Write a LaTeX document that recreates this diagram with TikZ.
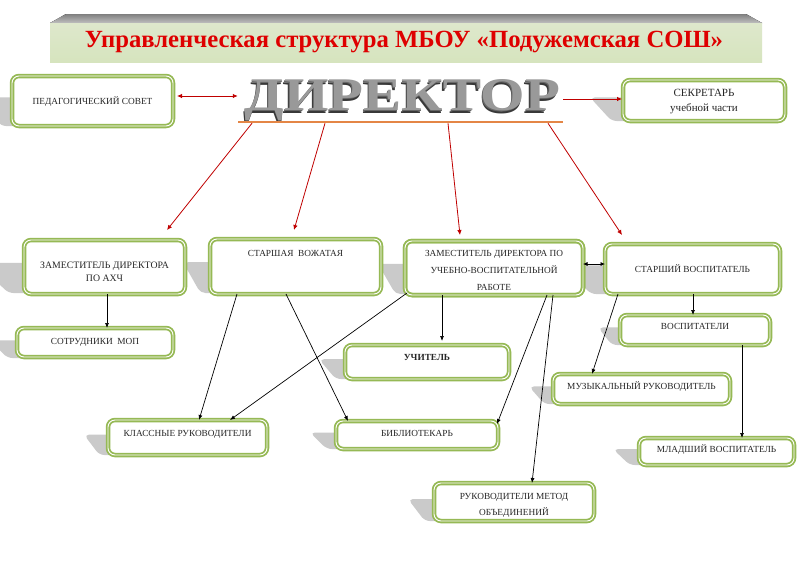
\documentclass[tikz,border=0pt]{standalone}
\usepackage{fontspec}
\usepackage{graphicx}
\setmainfont{Liberation Serif}
\usetikzlibrary{arrows.meta,calc}
\definecolor{gr}{RGB}{150,185,85}
\definecolor{shd}{RGB}{202,202,202}
\definecolor{darkred}{RGB}{192,0,0}
\definecolor{orng}{RGB}{228,134,70}
\definecolor{titlered}{RGB}{222,0,0}
\newcommand\fsz[2]{\fontsize{#1}{#2}\selectfont}
\newcommand\shadowpoly[4]{\fill[shd, rounded corners=5pt] ({#1+12},{#2+0.45*(#3-#2)}) -- ({#1-#4},{#2+0.45*(#3-#2)}) -- ({#1-0.3*#4},{#3}) -- ({#1+12},{#3}) -- cycle;}
\begin{document}
\begin{tikzpicture}[x=1pt,y=-1pt,
  frame/.style={rounded corners=7pt, draw=gr, line width=1.8pt, double=white, double distance=0.9pt},
  box/.style={frame, rectangle, fill=white, inner sep=0pt, outer sep=0pt, text=black!85, align=center, font=\fsz{9.3}{11}},
  sline/.style={text height=6.5pt, text depth=0pt},
  blk/.style={line width=0.7pt, -{Latex[length=5pt,width=4pt]}},
  redarr/.style={darkred, line width=0.8pt, -{Latex[length=5pt,width=4.5pt]}},
  dirtext/.style={inner sep=0pt, anchor=base, font=\bfseries}
]
\useasboundingbox (0,0) rectangle (800,565);
\fill[white] (0,0) rectangle (800,565);

% title banner
\fill[top color=black!50, bottom color=black!25] (66,14) -- (746,14) -- (762,23) -- (50,23) -- cycle;
\fill[top color={rgb,255:red,222;green,232;blue,204}, middle color={rgb,255:red,244;green,247;blue,238}, bottom color={rgb,255:red,214;green,228;blue,190}] (50,23) rectangle (762,62);
\node[inner sep=0pt, anchor=base, text=titlered] (title) at (404,47) {\resizebox{638pt}{!}{\bfseries Управленческая структура МБОУ «Подужемская СОШ»}};

% director
\node[dirtext, text=black!78] (dirsh2) at ($(402.5,110)+(-1.6,3.6)$) {\resizebox{315pt}{31pt}{ДИРЕКТОР}};
\node[dirtext, text=black!60] (dirsh1) at ($(402.5,110)+(-0.8,1.8)$) {\resizebox{315pt}{31pt}{ДИРЕКТОР}};
\node[dirtext, text=black!40] (dir) at (402.5,110) {\resizebox{315pt}{31pt}{ДИРЕКТОР}};
\node[fill=orng, minimum width=325pt, minimum height=2.5pt, inner sep=0pt, outer sep=0pt] (bar) at (400.5,122) {};

% shadows
\shadowpoly{10}{74}{126}{30}
\shadowpoly{621}{78}{121}{31}
\shadowpoly{22}{238}{293}{45}
\shadowpoly{208}{237}{293}{25}
\shadowpoly{403}{239}{294}{25}
\shadowpoly{603}{242}{294}{40}
\shadowpoly{15}{326}{358}{25}
\shadowpoly{343}{343}{379}{24}
\shadowpoly{618}{313}{345}{20}
\shadowpoly{551}{372}{404}{22}
\shadowpoly{106}{418}{455}{22}
\shadowpoly{334}{419}{449}{24}
\shadowpoly{637}{436}{465}{24}
\shadowpoly{432}{481}{521}{24}

% boxes
\node[box, sline, minimum width=161pt, minimum height=50pt] (ped) at (92.5,101) {ПЕДАГОГИЧЕСКИЙ СОВЕТ};
\node[box, font=\fsz{11}{15}, text height=23.5pt, text depth=2.4pt, minimum width=162pt, minimum height=41pt] (sec) at (704,100.5) {СЕКРЕТАРЬ\\учебной части};
\node[box, font=\fsz{9.8}{13}, text height=28.4pt, text depth=0pt, minimum width=161pt, minimum height=54pt] (axch) at (104.5,267) {ЗАМЕСТИТЕЛЬ ДИРЕКТОРА\\ПО АХЧ};
\node[box, minimum width=171pt, minimum height=55pt,
  label={[anchor=base, yshift=-17pt, font=\fsz{9.3}{11}, text=black!85]north:СТАРШАЯ~ ВОЖАТАЯ}] (vozh) at (295.5,266.5) {};
\node[box, font=\fsz{9.3}{17}, text height=44pt, text depth=0pt, minimum width=178pt, minimum height=54pt] (uvr) at (494,268) {ЗАМЕСТИТЕЛЬ ДИРЕКТОРА ПО\\УЧЕБНО-ВОСПИТАТЕЛЬНОЙ\\РАБОТЕ};
\draw[frame] (uvr.south west) rectangle (uvr.north east);
\node[box, sline, minimum width=175pt, minimum height=50pt] (stv) at (692.5,269) {СТАРШИЙ ВОСПИТАТЕЛЬ};
\node[box, sline, text depth=3pt, minimum width=156pt, minimum height=29pt] (mop) at (95,342.5) {СОТРУДНИКИ~ МОП};
\node[box, sline, text depth=9pt, minimum width=164pt, minimum height=34pt] (uch) at (427,362) {\bfseries УЧИТЕЛЬ};
\node[box, sline, text depth=7pt, minimum width=150pt, minimum height=30pt] (vosp) at (695,330) {ВОСПИТАТЕЛИ};
\node[box, sline, text depth=5pt, minimum width=177pt, minimum height=30pt] (muz) at (641.5,389) {МУЗЫКАЛЬНЫЙ РУКОВОДИТЕЛЬ};
\node[box, sline, text depth=8pt, minimum width=159pt, minimum height=35pt] (klass) at (187.5,437.5) {КЛАССНЫЕ РУКОВОДИТЕЛИ};
\node[box, sline, text depth=4pt, minimum width=162pt, minimum height=28pt] (bibl) at (417,435) {БИБЛИОТЕКАРЬ};
\node[box, sline, text depth=4pt, minimum width=155pt, minimum height=27pt] (mlad) at (716.5,451.5) {МЛАДШИЙ ВОСПИТАТЕЛЬ};
\node[box, font=\fsz{9.3}{16}, text height=28pt, text depth=2pt, minimum width=160pt, minimum height=38pt] (rukm) at (514,502) {РУКОВОДИТЕЛИ МЕТОД\\ОБЪЕДИНЕНИЙ};

% red connectors
\draw[redarr, {Latex[length=5pt,width=4.5pt]}-{Latex[length=5pt,width=4.5pt]}, shorten <=4pt, shorten >=7pt] ([yshift=5pt]ped.east) -- ([yshift=5pt]ped.east -| dir.west);
\draw[redarr, shorten <=3pt, shorten >=1pt] ([yshift=1.5pt]sec.west -| dir.east) -- ([yshift=1.5pt]sec.west);
\draw[redarr] ([xshift=-148.5pt]bar.south) -- ([xshift=62.5pt,yshift=10pt]axch.north);
\draw[redarr] ([xshift=-75.5pt]bar.south) -- ([xshift=-1.5pt,yshift=9pt]vozh.north);
\draw[redarr] ([xshift=47.5pt]bar.south) -- ([xshift=-34pt,yshift=6pt]uvr.north);
\draw[redarr] ([xshift=147.5pt]bar.south) -- ([xshift=-70.5pt,yshift=9pt]stv.north);

% black connectors
\draw[blk] ([xshift=2.5pt]axch.south) -- ([xshift=12pt]mop.north);
\draw[blk] ([xshift=-58.5pt]vozh.south) -- ([xshift=11.5pt]klass.north);
\draw[blk] ([xshift=-9.5pt]vozh.south) -- ([xshift=-69pt]bibl.north);
\draw[blk] ([xshift=2pt,yshift=2pt]uvr.south west) -- ([xshift=42.5pt]klass.north);
\draw[blk, shorten >=4pt] ([xshift=-52pt]uvr.south) -- ([xshift=15pt]uch.north);
\draw[blk] ([xshift=53pt]uvr.south) -- ([xshift=-1pt,yshift=-3pt]bibl.north east);
\draw[blk] ([xshift=59pt]uvr.south) -- ([xshift=18pt]rukm.north);
\draw[line width=0.7pt, {Latex[length=4.5pt,width=4pt]}-{Latex[length=4.5pt,width=4pt]}] ([yshift=4pt]uvr.east) -- ([yshift=4pt]uvr.east -| stv.west);
\draw[blk] ([xshift=0.5pt]stv.south) -- ([xshift=0.5pt]stv.south |- vosp.north);
\draw[blk] ([xshift=-74.5pt]stv.south) -- ([xshift=-49.5pt]muz.north);
\draw[blk] ([xshift=47pt]vosp.south) -- ([xshift=47pt]vosp.south |- mlad.north);
\end{tikzpicture}
\end{document}
